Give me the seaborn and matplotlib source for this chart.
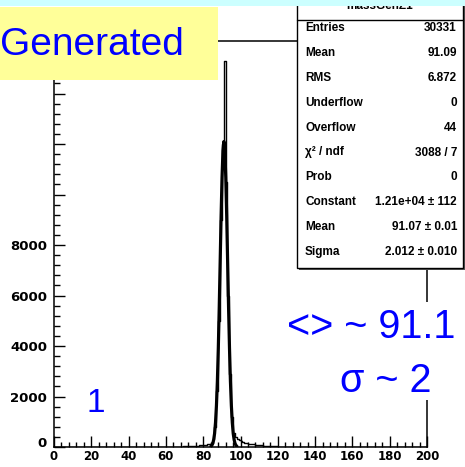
import numpy as np
import pandas as pd
import matplotlib
matplotlib.use("Agg")
import matplotlib.pyplot as plt
import matplotlib.transforms as mtrans
from matplotlib.patches import Rectangle
from matplotlib.lines import Line2D
import seaborn as sns

# ---------------- data ----------------
bin_left = list(range(60, 140))
bin_counts = [8, 9, 10, 11, 12, 13, 15, 17, 19, 21,            # 60-69
              23, 26, 29, 33, 37, 42, 48, 55, 63, 72,          # 70-79
              82, 95, 110, 130, 150, 300, 800, 2200, 5000, 9000,   # 80-89
              12000, 15300, 10500, 6000, 2900, 1200, 550, 400, 320, 260,  # 90-99
              220, 190, 170, 150, 135, 120, 110, 100, 90, 80,  # 100-109
              70, 62, 55, 48, 42, 36, 31, 27, 23, 20,          # 110-119
              17, 15, 13, 11, 10, 9, 8, 7, 6, 5,               # 120-129
              5, 4, 4, 3, 3, 2, 2, 2, 1, 1]                    # 130-139

fit_mass = [84.1, 84.6, 85.1, 85.6, 86.1, 86.6, 87.1, 87.6, 88.1, 88.6, 89.1, 89.6,
            90.1, 90.6, 91.1, 91.6, 92.1, 92.6, 93.1, 93.6, 94.1, 94.6, 95.1, 95.6,
            96.1, 96.6, 97.1, 97.6, 98.1]
fit_values = [25, 60, 135, 280, 530, 970, 1640, 2600, 3910, 5530, 7340, 9150,
              10680, 11730, 12100, 11730, 10680, 9150, 7340, 5530, 3910, 2600, 1640, 970,
              530, 280, 135, 60, 25]

x_ticks = [0, 20, 40, 60, 80, 100, 120, 140, 160, 180, 200]
x_tick_labels = ["0", "20", "40", "60", "80", "100", "120", "140", "160", "180", "200"]
y_ticks = [0, 2000, 4000, 6000, 8000, 10000, 12000, 14000]
y_tick_labels = ["0", "2000", "4000", "6000", "8000", "", "", ""]

stats_title = "massGenZ1"
stats_labels = ["Entries", "Mean", "RMS", "Underflow", "Overflow", "\u03c7\u00b2 / ndf",
                "Prob", "Constant", "Mean", "Sigma"]
stats_values = ["30331", "91.09", "6.872", "0", "44", "3088 / 7",
                "0", "1.21e+04 \u00b1 112", "91.07 \u00b1 0.01", "2.012 \u00b1 0.010"]

# ---------------- figure ----------------
W, H = 465, 467
sns.set_theme(style="ticks")
plt.rcParams["font.family"] = ["DejaVu Sans"]
plt.rcParams["text.color"] = "black"

fig = plt.figure(figsize=(W / 100, H / 100), dpi=100)
fig.patch.set_facecolor("white")


def fx(px):
    return px / W


def fy(py):
    return 1 - py / H


ax = fig.add_axes([fx(54), fy(447), (427 - 54) / W, (447 - 41.4) / H])
ax.set_facecolor("white")

hist_df = pd.DataFrame({"mass": np.array(bin_left) + 0.5, "count": bin_counts})
sns.histplot(data=hist_df, x="mass", weights="count", binwidth=1, binrange=(0, 200),
             element="step", fill=False, color="black", linewidth=1.0, ax=ax)

fit_df = pd.DataFrame({"mass": fit_mass, "value": fit_values})
sns.lineplot(data=fit_df, x="mass", y="value", color="black", linewidth=2.3, ax=ax)

ax.set_xlim(0, 200)
ax.set_ylim(0, 16065)
ax.set_xlabel("")
ax.set_ylabel("")

ax.set_xticks(x_ticks)
ax.set_xticklabels(x_tick_labels, fontsize=8.5, fontweight="bold", color="black")
ax.set_yticks(y_ticks)
ax.set_yticklabels(y_tick_labels, fontsize=9.5, fontweight="bold", color="black")
ax.xaxis.set_minor_locator(matplotlib.ticker.MultipleLocator(4))
ax.yaxis.set_minor_locator(matplotlib.ticker.MultipleLocator(400))

ax.tick_params(axis="x", which="major", direction="in", length=8, width=1.0, pad=2.5, colors="black")
ax.tick_params(axis="x", which="minor", direction="in", length=3.6, width=1.0, colors="black")
ax.tick_params(axis="y", which="major", direction="in", length=8, width=1.0, pad=5, colors="black")
ax.tick_params(axis="y", which="minor", direction="in", length=4.3, width=1.0, colors="black")
ax.tick_params(top=False, right=False, which="both")

for s in ax.spines.values():
    s.set_visible(True)
    s.set_color("black")
    s.set_linewidth(1.1)

# ROOT-style: lift the y "0" label a bit
lbl0 = ax.get_yticklabels()[0]
lbl0.set_transform(lbl0.get_transform() + mtrans.ScaledTranslation(0, 3.5 / 72, fig.dpi_scale_trans))

# ---------------- stats box ----------------
stat_font = ["Liberation Sans", "DejaVu Sans"]
fig.patches.append(Rectangle((fx(299), fy(270)), 166 / W, 285 / H, transform=fig.transFigure,
                             facecolor="#555555", edgecolor="none", zorder=4))
fig.patches.append(Rectangle((fx(297), fy(268)), 166 / W, 285 / H, transform=fig.transFigure,
                             facecolor="white", edgecolor="black", linewidth=1.0, zorder=4))
fig.lines.append(Line2D([fx(297), fx(463)], [fy(20), fy(20)], transform=fig.transFigure,
                        color="black", linewidth=1.0, zorder=5))
fig.text(fx(380), fy(6), stats_title, ha="center", va="center", fontsize=8.5,
         fontweight="bold", family=stat_font, color="black", zorder=6)
for i, (lab, val) in enumerate(zip(stats_labels, stats_values)):
    yy = 28 + 24.9 * i
    fig.text(fx(305), fy(yy), lab, ha="left", va="center", fontsize=8.5,
             fontweight="bold", family=stat_font, color="black", zorder=6)
    fig.text(fx(457), fy(yy), val, ha="right", va="center", fontsize=8.5,
             fontweight="bold", family=stat_font, color="black", zorder=6)

# ---------------- slide decorations ----------------
fig.patches.append(Rectangle((0, fy(6)), 1, 6 / H, transform=fig.transFigure,
                             facecolor="#CCFFFF", edgecolor="none", zorder=10))
fig.patches.append(Rectangle((0, fy(80)), 218 / W, 73 / H, transform=fig.transFigure,
                             facecolor="#FFFF99", edgecolor="none", zorder=7))
fig.text(fx(0), fy(55), "Generated", ha="left", va="baseline", fontsize=28,
         color="#0000FF", family=["Liberation Sans", "DejaVu Sans"], zorder=8)

fig.patches.append(Rectangle((fx(285), fy(400)), 180 / W, 98 / H, transform=fig.transFigure,
                             facecolor="white", edgecolor="none", zorder=2))
fig.text(fx(287), fy(338), "<> ~ 91.1", ha="left", va="baseline", fontsize=28.5,
         color="#0000FF", family=["Liberation Sans", "DejaVu Sans"], zorder=3)
fig.text(fx(386), fy(392), "\u03c3 ~ 2", ha="center", va="baseline", fontsize=28.5,
         color="#0000FF", family=["Liberation Sans", "DejaVu Sans"], zorder=3)
fig.text(fx(96), fy(412), "1", ha="center", va="baseline", fontsize=24,
         color="#0000FF", family=["Liberation Sans", "DejaVu Sans"], zorder=3)

fig.savefig("out.png", dpi=100, facecolor="white")
